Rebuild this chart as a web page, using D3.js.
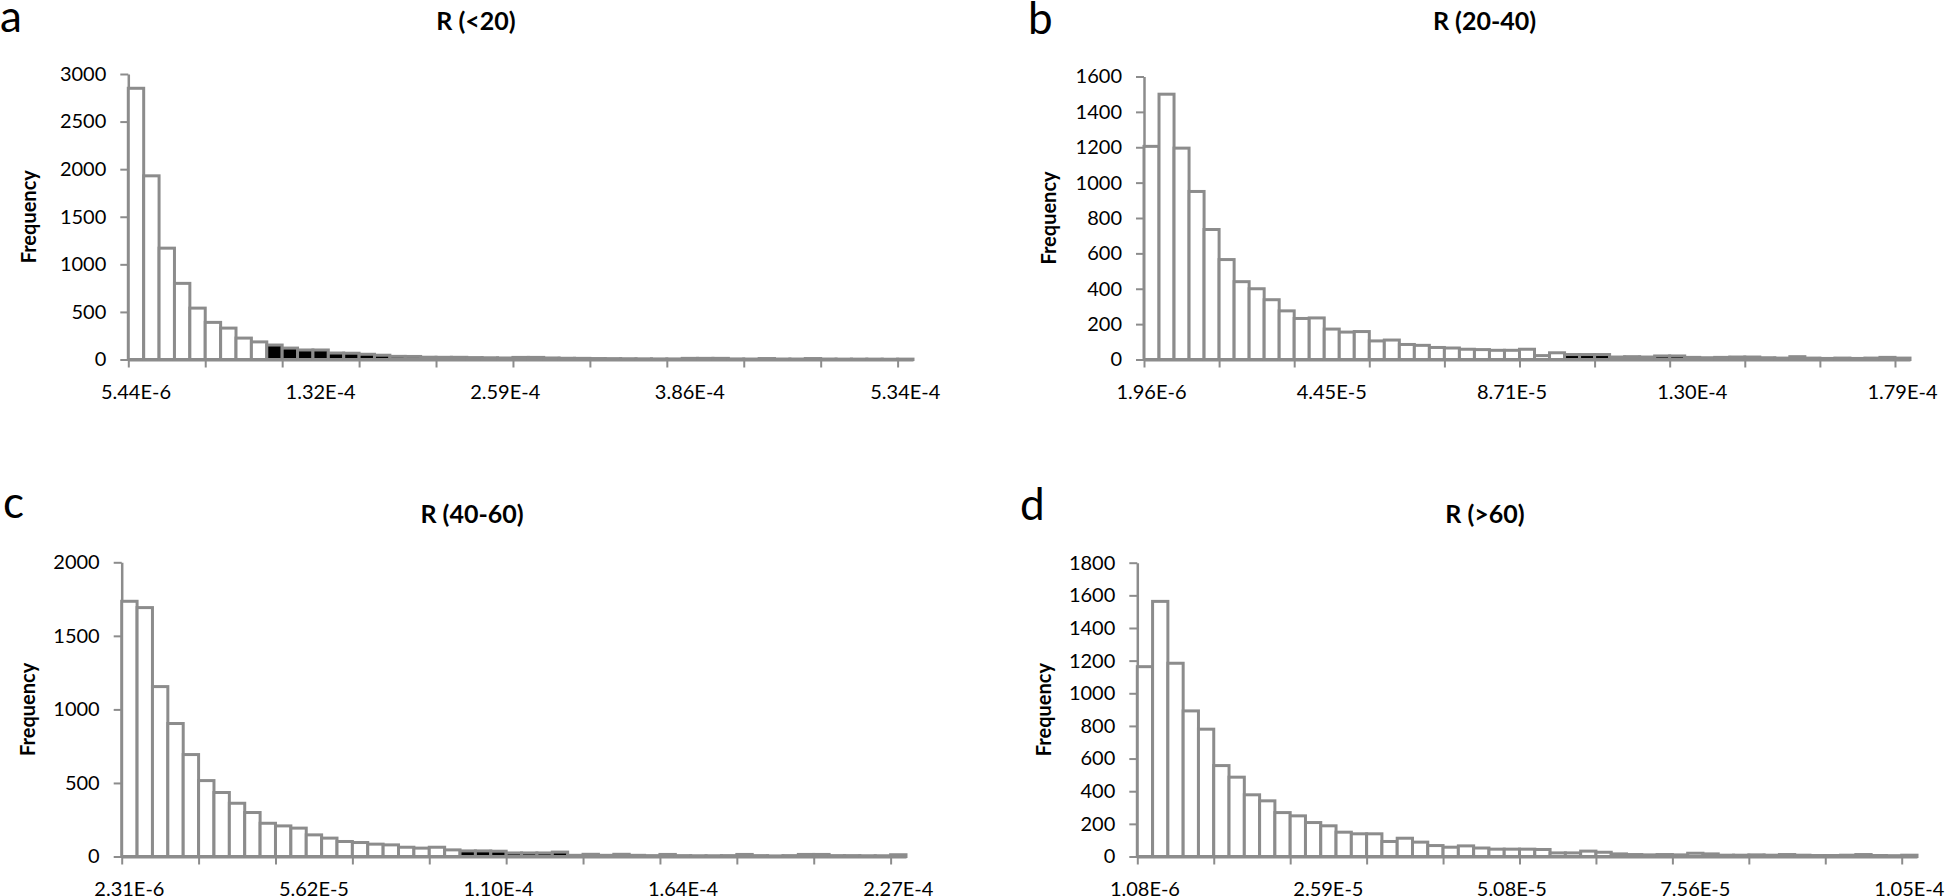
<!DOCTYPE html>
<html>
<head>
<meta charset="utf-8">
<script src="https://cdn.jsdelivr.net/npm/d3@7/dist/d3.min.js"></script>
<style>
  html, body { margin: 0; padding: 0; background: #fff; }
  svg { display: block; }
  text { font-family: Lato, "Open Sans", "DejaVu Sans", sans-serif; fill: #000; }
</style>
</head>
<body>
<svg id="chart" width="1946" height="896"></svg>
<script>
// ---------------- DATA ----------------
const panelLetters = ["a", "b", "c", "d"];
const titles = ["R (<20)", "R (20-40)", "R (40-60)", "R (>60)"];
const yAxisTitle = "Frequency";

// label positions (category index) shared by all panels
const xLabelIndex = [0, 12, 24, 36, 50];

const xLabelsA = ["5.44E-6", "1.32E-4", "2.59E-4", "3.86E-4", "5.34E-4"];
const xLabelsB = ["1.96E-6", "4.45E-5", "8.71E-5", "1.30E-4", "1.79E-4"];
const xLabelsC = ["2.31E-6", "5.62E-5", "1.10E-4", "1.64E-4", "2.27E-4"];
const xLabelsD = ["1.08E-6", "2.59E-5", "5.08E-5", "7.56E-5", "1.05E-4"];

const yTicksA = [0, 500, 1000, 1500, 2000, 2500, 3000];
const yTicksB = [0, 200, 400, 600, 800, 1000, 1200, 1400, 1600];
const yTicksC = [0, 500, 1000, 1500, 2000];
const yTicksD = [0, 200, 400, 600, 800, 1000, 1200, 1400, 1600, 1800];

// frequencies for 51 bins per panel
const freqA = [2850, 1930, 1170, 800, 540, 390, 330, 225, 185, 152,
               120, 100, 100, 68, 66, 55, 45, 33, 32, 24,
               23, 23, 20, 18, 16, 22, 22, 16, 13, 12,
               10, 9, 8, 7, 6, 6, 12, 12, 12, 6,
               5, 10, 5, 5, 10, 5, 4, 4, 4, 3, 4];
const freqB = [1205, 1500, 1195, 950, 735, 565, 440, 400, 338, 275,
               232, 235, 172, 155, 158, 105, 110, 85, 80, 68,
               65, 58, 56, 52, 52, 58, 22, 38, 28, 28,
               28, 14, 16, 14, 20, 20, 12, 10, 12, 14,
               14, 10, 8, 16, 8, 6, 8, 6, 8, 12, 8];
const freqC = [1735, 1692, 1155, 904, 693, 516, 435, 362, 299, 226,
               208, 193, 147, 125, 102, 95, 84, 79, 63, 57,
               63, 45, 38, 38, 36, 24, 24, 24, 30, 8,
               15, 8, 15, 8, 6, 14, 6, 5, 5, 6,
               14, 6, 4, 6, 14, 14, 6, 6, 5, 5, 12];
const freqD = [1163, 1563, 1184, 892, 780, 557, 486, 378, 341, 269,
               249, 208, 188, 149, 139, 139, 92, 112, 88, 67,
               57, 65, 52, 45, 45, 45, 43, 22, 22, 33,
               26, 16, 12, 10, 12, 10, 20, 16, 8, 8,
               10, 8, 12, 8, 6, 6, 8, 12, 6, 5, 8];

// highlighted (black) bins: [first index, last index]
const blackRangeA = [9, 21];
const blackRangeB = [28, 35];
const blackRangeC = [22, 28];
const blackRangeD = [];

// ---------------- LAYOUT ----------------
const gray = "#8c8c8c";
const svg = d3.select("#chart");

const panels = [
  { letter: panelLetters[0], title: titles[0], freq: freqA, black: blackRangeA, xLabels: xLabelsA, yTicks: yTicksA,
    x0: 128.3, x1: 913, yZero: 359.5, yTop: 74, titleX: 476, titleY: 30, letterX: 0, letterY: 32, freqX: 36 },
  { letter: panelLetters[1], title: titles[1], freq: freqB, black: blackRangeB, xLabels: xLabelsB, yTicks: yTicksB,
    x0: 1144, x1: 1910, yZero: 359.5, yTop: 76.5, titleX: 1484.5, titleY: 30, letterX: 1028, letterY: 34, freqX: 1056 },
  { letter: panelLetters[2], title: titles[2], freq: freqC, black: blackRangeC, xLabels: xLabelsC, yTicks: yTicksC,
    x0: 121.7, x1: 906, yZero: 856.5, yTop: 562.3, titleX: 472, titleY: 523, letterX: 3, letterY: 518, freqX: 34.5 },
  { letter: panelLetters[3], title: titles[3], freq: freqD, black: blackRangeD, xLabels: xLabelsD, yTicks: yTicksD,
    x0: 1137.3, x1: 1917, yZero: 856.5, yTop: 562.7, titleX: 1485, titleY: 523, letterX: 1020, letterY: 520, freqX: 1051 }
];

panels.forEach(p => {
  const g = svg.append("g");
  const n = p.freq.length;
  const idx = d3.range(n);

  const xb = d3.scaleBand().domain(idx).range([p.x0, p.x1]).paddingInner(0).paddingOuter(0);
  const xl = d3.scaleLinear().domain([0, n]).range([p.x0, p.x1]);
  const y = d3.scaleLinear().domain([0, d3.max(p.yTicks)]).range([p.yZero, p.yTop]);

  // panel letter
  g.append("text")
    .attr("x", p.letterX).attr("y", p.letterY)
    .attr("font-size", 44)
    .text(p.letter);

  // title
  g.append("text")
    .attr("x", p.titleX).attr("y", p.titleY)
    .attr("text-anchor", "middle")
    .attr("font-size", 25).attr("font-weight", "bold")
    .text(p.title);

  // y-axis title
  g.append("text")
    .attr("transform", `translate(${p.freqX},${(p.yZero + p.yTop) / 2}) rotate(-90)`)
    .attr("text-anchor", "middle")
    .attr("font-size", 20).attr("font-weight", "bold")
    .text(yAxisTitle);

  // y axis
  const yAxis = g.append("g")
    .attr("transform", `translate(${p.x0},0)`)
    .call(d3.axisLeft(y).tickValues(p.yTicks).tickFormat(d3.format("d"))
      .tickSize(8).tickSizeOuter(0).tickPadding(14));
  yAxis.select(".domain").attr("stroke", gray).attr("stroke-width", 2.5);
  yAxis.selectAll(".tick line").attr("stroke", gray).attr("stroke-width", 2);
  yAxis.selectAll(".tick text")
    .attr("font-size", 20)
    .style("font-family", "Lato, 'Open Sans', sans-serif")
    .attr("fill", "#000");

  // x axis (ticks between categories every 5 bins)
  const xAxis = g.append("g")
    .attr("transform", `translate(0,${p.yZero})`)
    .call(d3.axisBottom(xl).tickValues(d3.range(0, n, 5)).tickFormat("")
      .tickSize(8).tickSizeOuter(0));
  xAxis.select(".domain").attr("stroke", gray).attr("stroke-width", 3);
  xAxis.selectAll(".tick line").attr("stroke", gray).attr("stroke-width", 2);

  // x labels at category centres
  g.selectAll(".xlab")
    .data(xLabelIndex)
    .join("text")
    .attr("class", "xlab")
    .attr("x", (d) => xb(d) + xb.bandwidth() / 2)
    .attr("y", p.yZero + 39)
    .attr("text-anchor", "middle")
    .attr("font-size", 20)
    .text((d, i) => p.xLabels[i]);

  // bars
  const isBlack = i => p.black.length === 2 && i >= p.black[0] && i <= p.black[1];
  g.selectAll(".bar")
    .data(p.freq)
    .join("rect")
    .attr("class", "bar")
    .attr("x", (d, i) => xb(i))
    .attr("width", xb.bandwidth())
    .attr("y", d => y(d))
    .attr("height", d => y(0) - y(d))
    .attr("fill", (d, i) => isBlack(i) ? "#000" : "#fff")
    .attr("stroke", gray)
    .attr("stroke-width", 3);
});
</script>
</body>
</html>
